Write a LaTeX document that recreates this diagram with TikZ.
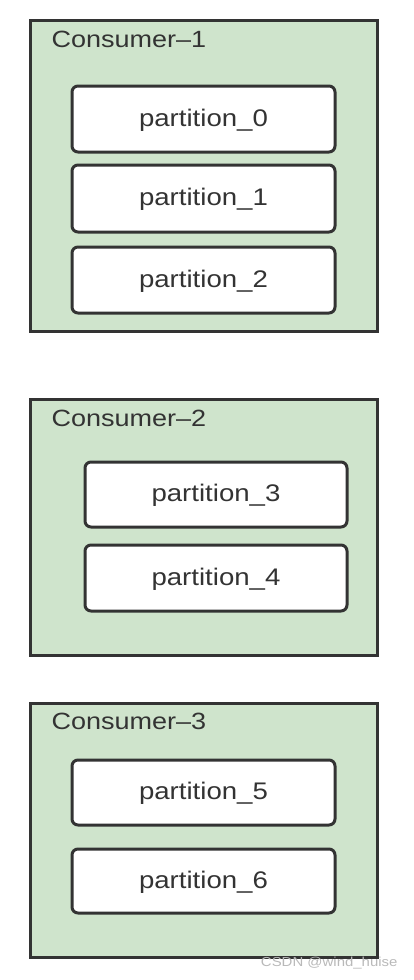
\documentclass[tikz,border=0pt]{standalone}
\usepackage{fontspec}
\setmainfont{Liberation Sans}[FakeStretch=1.15]
\definecolor{cgreen}{RGB}{207,228,204}
\definecolor{cline}{RGB}{51,51,51}
\definecolor{wm}{RGB}{185,185,185}
\begin{document}
\begin{tikzpicture}[x=1pt,y=-1pt,
  consumer/.style={draw=cline,fill=cgreen,line width=3pt},
  part/.style={draw=cline,fill=white,line width=3pt,rounded corners=6pt},
  ptext/.style={text=cline,font=\fontsize{24}{28}\selectfont},
  ctext/.style={text=cline,anchor=west,font=\fontsize{23.5}{28}\selectfont}]
\useasboundingbox (0,0) rectangle (414,980);
% Consumer 1
\path[consumer] (30,20) rectangle (377,331);
\node[ctext] (c1) at (48,39) {Consumer–1};
\path[part] (72,86) rectangle (335,152);
\node[ptext] (p0) at (203.5,120) {partition\_0};
\path[part] (72,165) rectangle (335,232);
\node[ptext] (p1) at (203.5,199.5) {partition\_1};
\path[part] (72,247) rectangle (335,313);
\node[ptext] (p2) at (203.5,281) {partition\_2};
% Consumer 2
\path[consumer] (30,399) rectangle (377,655);
\node[ctext] (c2) at (48,418) {Consumer–2};
\path[part] (85,462) rectangle (347,527);
\node[ptext] (p3) at (216,495.5) {partition\_3};
\path[part] (85,545) rectangle (347,611);
\node[ptext] (p4) at (216,579) {partition\_4};
% Consumer 3
\path[consumer] (30,703) rectangle (377,957);
\node[ctext] (c3) at (48,721) {Consumer–3};
\path[part] (72,760) rectangle (335,825);
\node[ptext] (p5) at (203.5,793.5) {partition\_5};
\path[part] (72,849) rectangle (335,913);
\node[ptext] (p6) at (203.5,882) {partition\_6};
% watermark
\node[text=wm,font=\fontsize{13}{15}\selectfont,anchor=east] (wmk) at (401,963) {CSDN @wind\_huise};
\end{tikzpicture}
\end{document}
